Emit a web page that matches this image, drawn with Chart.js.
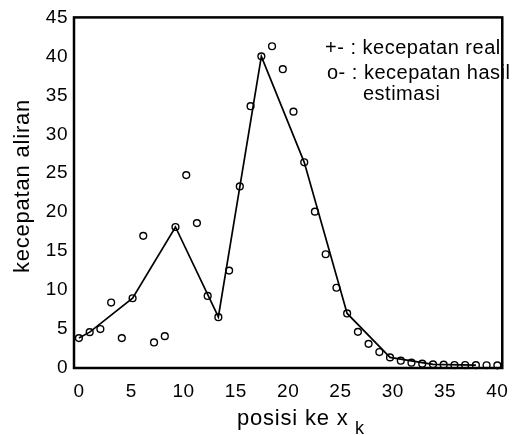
<!DOCTYPE html>
<html>
<head>
<meta charset="utf-8">
<script src="https://cdn.jsdelivr.net/npm/chart.js@4.4.1/dist/chart.umd.min.js"></script>
<style>
  body { margin: 0; background: #fff; }
  canvas { display: block; }
</style>
</head>
<body>
<canvas id="grafik" width="520" height="435"></canvas>
<script>
// posisi titik (40 titik dari 0 sampai 40)
var posisi = [0, 1.03, 2.05, 3.08, 4.10, 5.13, 6.15, 7.18, 8.21, 9.23,
              10.26, 11.28, 12.31, 13.33, 14.36, 15.38, 16.41, 17.44, 18.46, 19.49,
              20.51, 21.54, 22.56, 23.59, 24.62, 25.64, 26.67, 27.69, 28.72, 29.74,
              30.77, 31.79, 32.82, 33.85, 34.87, 35.90, 36.92, 37.95, 38.97, 40];

// kecepatan hasil estimasi (o)
var kecEstimasi = [3.84, 4.6, 5.0, 8.4, 3.84, 8.95, 16.96, 3.28, 4.09, 18.1,
                   24.76, 18.6, 9.25, 6.52, 12.5, 23.3, 33.6, 40.0, 41.3, 38.35,
                   32.9, 26.4, 20.07, 14.6, 10.3, 7.0, 4.64, 3.1, 2.05, 1.36,
                   0.94, 0.68, 0.55, 0.47, 0.43, 0.38, 0.38, 0.36, 0.35, 0.34];

// kecepatan real (garis)
var posisiReal = [0, 1.03, 5.13, 9.23, 13.33, 17.44, 21.54, 25.64, 29.74, 33.85, 37.95];
var kecReal = [3.84, 4.6, 8.95, 18.1, 6.55, 40.0, 26.4, 7.0, 1.36, 0.47, 0.36];

var xTicks = [0, 5, 10, 15, 20, 25, 30, 35, 40];
var yTicks = [0, 5, 10, 15, 20, 25, 30, 35, 40, 45];

var huruf = '"Liberation Sans", Arial, Helvetica, sans-serif';

function toPoints(xs, ys) {
    var pts = [];
    for (var i = 0; i < xs.length; i++) {
        pts.push({ x: xs[i], y: ys[i] });
    }
    return pts;
}

var bingkaiDanTeks = {
    id: 'bingkaiDanTeks',
    beforeDraw: function (chart) {
        chart.ctx.letterSpacing = '0.5px';
    },
    afterDraw: function (chart) {
        var ctx = chart.ctx;
        var a = chart.chartArea;
        ctx.save();
        ctx.strokeStyle = '#000';
        ctx.lineWidth = 2.5;
        ctx.strokeRect(a.left, a.top, a.right - a.left, a.bottom - a.top);

        ctx.fillStyle = '#000';
        // judul sumbu y
        ctx.save();
        ctx.letterSpacing = '0.8px';
        ctx.font = '22px ' + huruf;
        ctx.translate(23, 186);
        ctx.rotate(-Math.PI / 2);
        ctx.textAlign = 'center';
        ctx.textBaseline = 'middle';
        ctx.fillText('kecepatan aliran', 0, 0);
        ctx.restore();

        // judul sumbu x
        ctx.letterSpacing = '0.8px';
        ctx.textAlign = 'left';
        ctx.textBaseline = 'alphabetic';
        ctx.font = '22px ' + huruf;
        ctx.fillText('posisi ke x', 237, 425);
        ctx.font = '18px ' + huruf;
        ctx.fillText('k', 355, 434);

        // keterangan
        ctx.letterSpacing = '0.5px';
        ctx.font = '20px ' + huruf;
        ctx.fillText('+- : kecepatan real', 325, 54);
        ctx.fillText('o- : kecepatan hasil', 327, 79);
        ctx.fillText('estimasi', 363, 100);
        ctx.restore();
    }
};

var ctx = document.getElementById('grafik');

var grafik = new Chart(ctx, {
    type: 'scatter',
    data: {
        datasets: [
            {
                label: 'kecepatan real',
                data: toPoints(posisiReal, kecReal),
                showLine: true,
                borderColor: '#000',
                borderWidth: 1.7,
                pointRadius: 0,
                fill: false,
                clip: false
            },
            {
                label: 'kecepatan hasil estimasi',
                data: toPoints(posisi, kecEstimasi),
                showLine: false,
                pointStyle: 'circle',
                pointRadius: 3.4,
                pointBorderWidth: 1.4,
                pointBorderColor: '#000',
                pointBackgroundColor: 'rgba(0,0,0,0)',
                clip: false
            }
        ]
    },
    options: {
        responsive: false,
        animation: false,
        devicePixelRatio: 1,
        layout: { padding: { top: 16, right: 7, left: 0, bottom: 0 } },
        plugins: {
            legend: { display: false },
            tooltip: { enabled: false }
        },
        scales: {
            x: {
                type: 'linear',
                min: -0.47,
                max: 40.47,
                grid: { display: false, drawTicks: false },
                border: { display: false },
                afterBuildTicks: function (scale) {
                    scale.ticks = xTicks.map(function (v) { return { value: v }; });
                },
                afterFit: function (scale) { scale.height = 67; },
                ticks: {
                    autoSkip: false,
                    maxRotation: 0,
                    padding: 12,
                    color: '#000',
                    font: { family: huruf, size: 19 }
                }
            },
            y: {
                type: 'linear',
                min: 0,
                max: 45,
                grid: { display: false, drawTicks: false },
                border: { display: false },
                afterBuildTicks: function (scale) {
                    scale.ticks = yTicks.map(function (v) { return { value: v }; });
                },
                afterFit: function (scale) { scale.width = 74; },
                ticks: {
                    autoSkip: false,
                    padding: 6,
                    color: '#000',
                    font: { family: huruf, size: 19 }
                }
            }
        }
    },
    plugins: [bingkaiDanTeks]
});
</script>
</body>
</html>
